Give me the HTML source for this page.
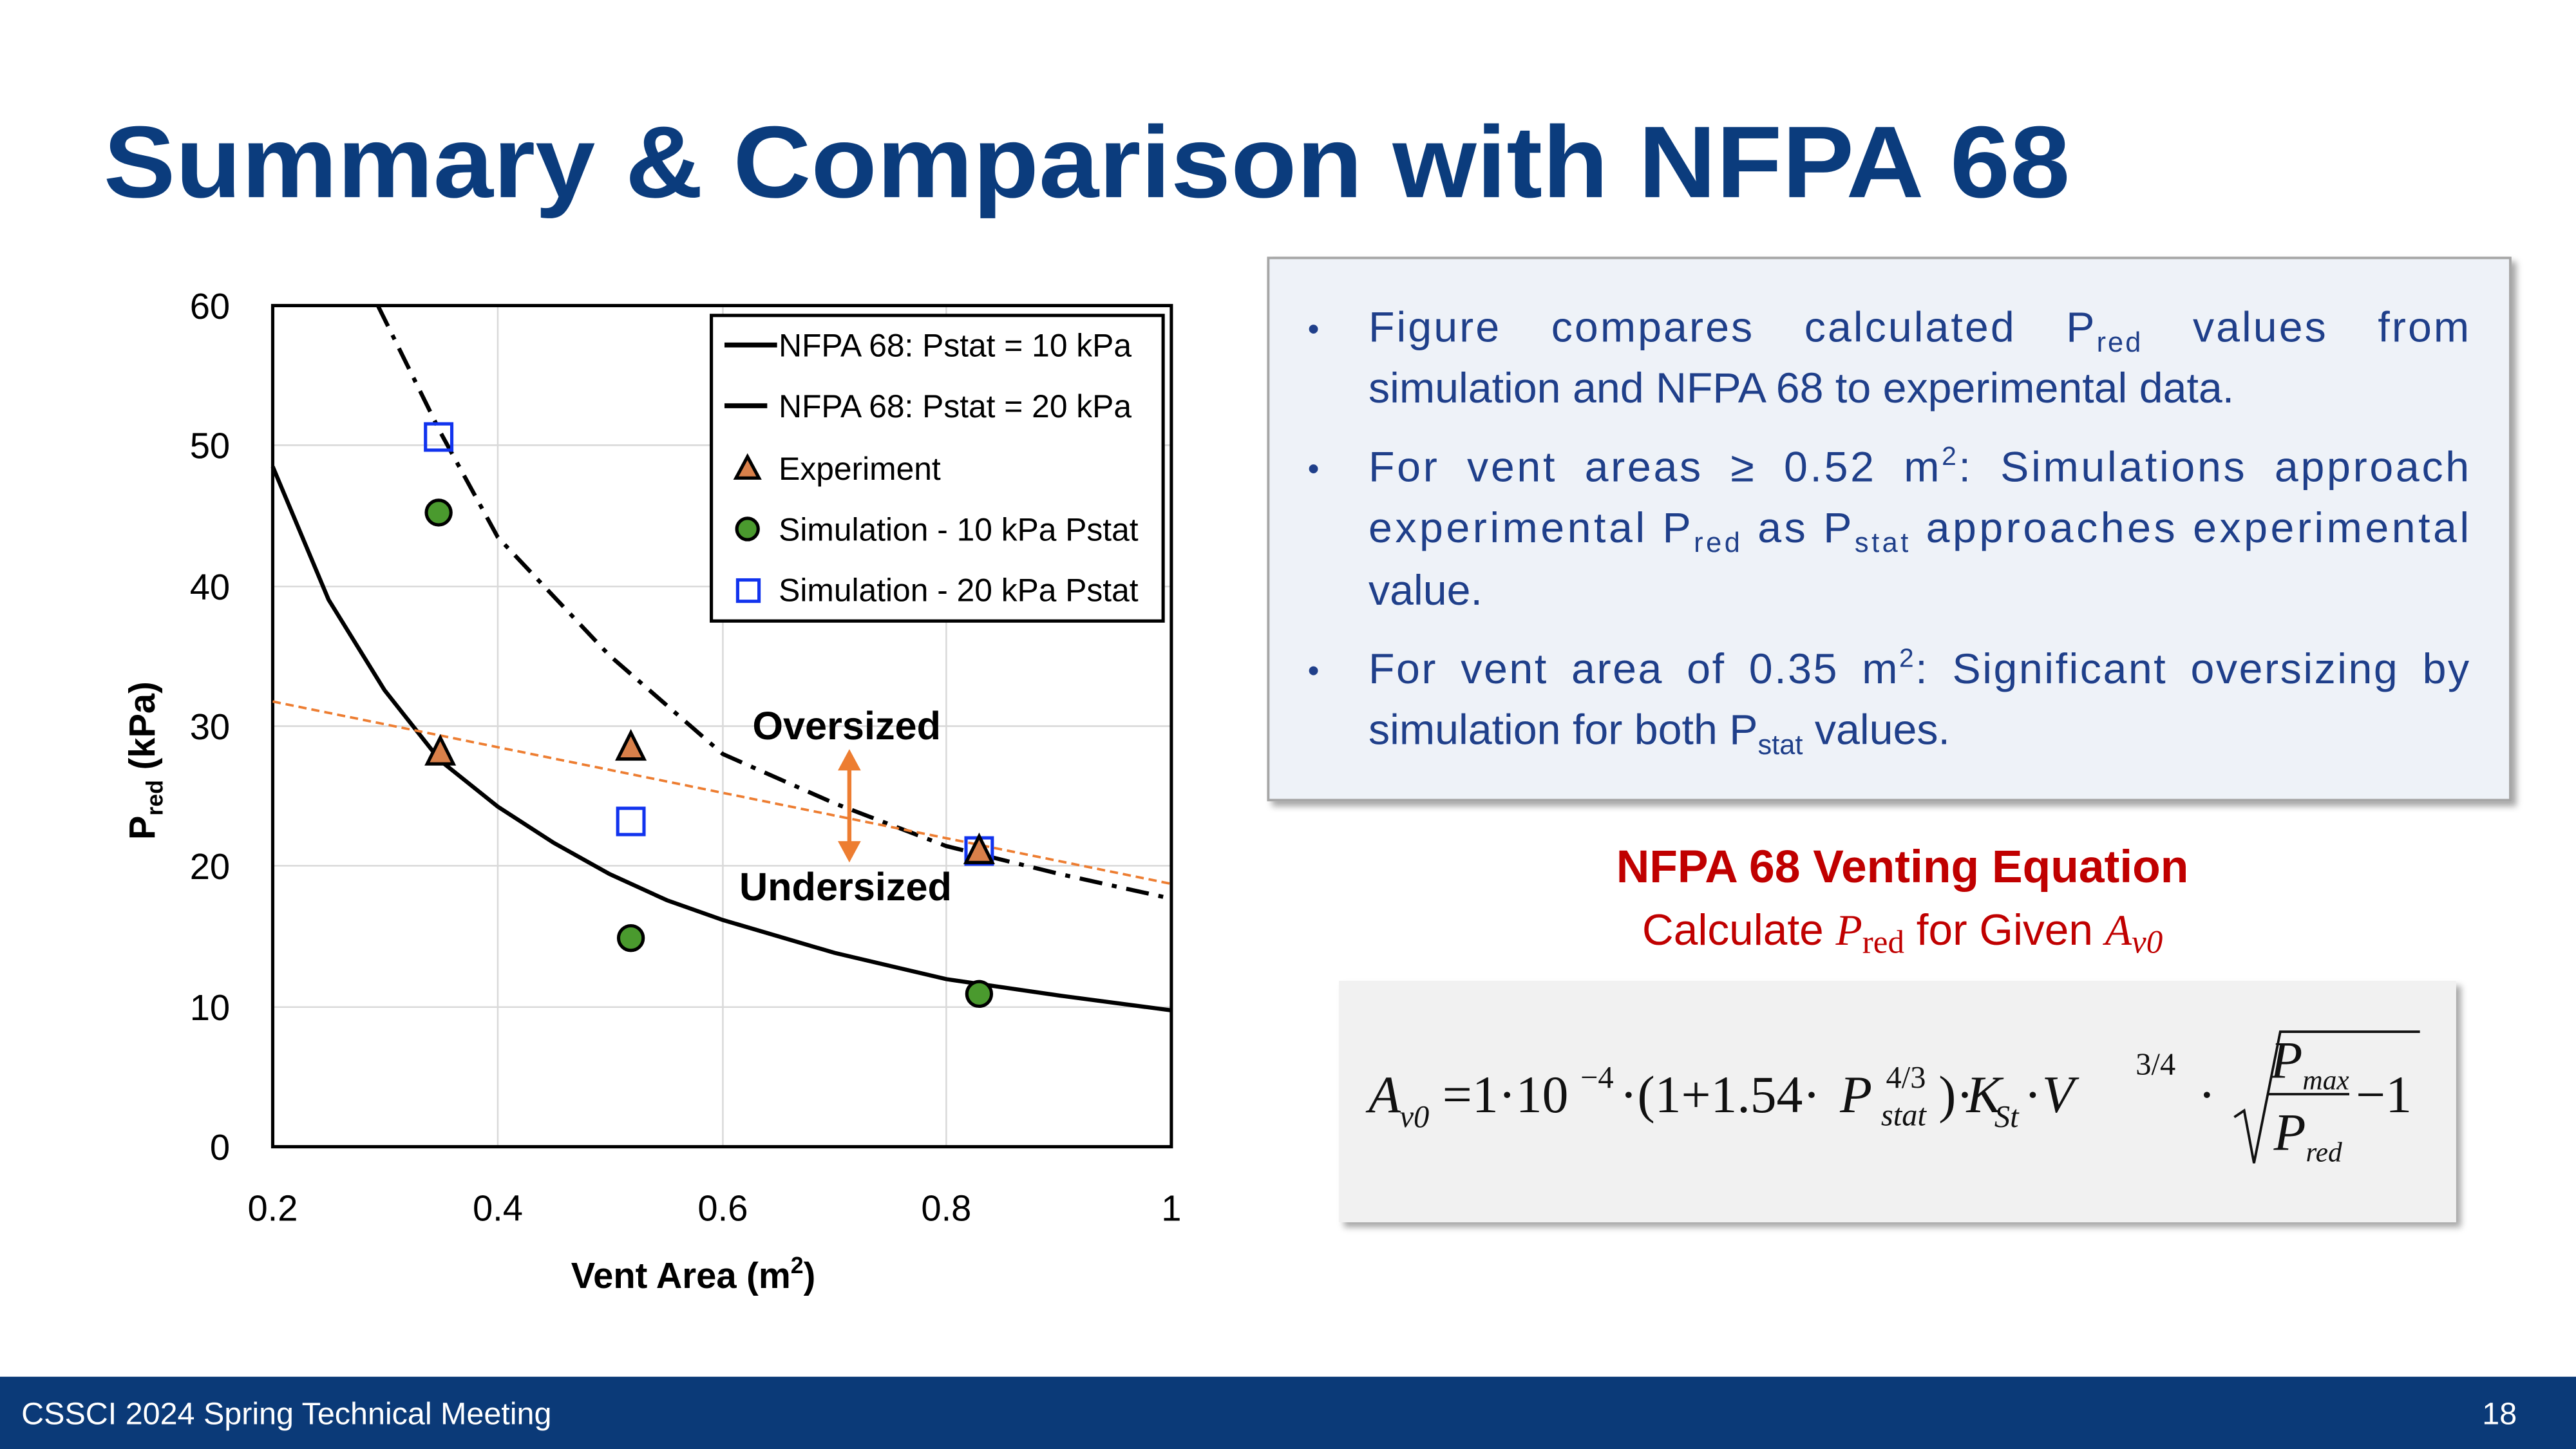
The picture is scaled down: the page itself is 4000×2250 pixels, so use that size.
<!DOCTYPE html>
<html><head><meta charset="utf-8"><style>
html,body{margin:0;padding:0;background:#fff}
svg{display:block}
text{font-family:"Liberation Sans",sans-serif}
.s{font-family:"Liberation Serif",serif}
</style></head><body>
<svg width="4000" height="2250" viewBox="0 0 1568 882" xmlns="http://www.w3.org/2000/svg">
<defs>
<filter id="sh" x="-5%" y="-5%" width="112%" height="115%"><feDropShadow dx="3" dy="3" stdDeviation="2" flood-color="#000" flood-opacity="0.35"/></filter>
</defs>
<rect width="1568" height="882" fill="#fff"/>
<text x="63" y="120" font-size="62" font-weight="bold" fill="#0b3c7d" textLength="1197" lengthAdjust="spacingAndGlyphs">Summary &amp; Comparison with NFPA 68</text>

<g stroke="#d9d9d9" stroke-width="1">
<line x1="303" y1="186" x2="303" y2="698"/><line x1="440" y1="186" x2="440" y2="698"/><line x1="576" y1="186" x2="576" y2="698"/>
<line x1="166" y1="271" x2="713" y2="271"/><line x1="166" y1="357" x2="713" y2="357"/><line x1="166" y1="442" x2="713" y2="442"/><line x1="166" y1="527" x2="713" y2="527"/><line x1="166" y1="613" x2="713" y2="613"/>
</g>
<rect x="166" y="186" width="547" height="512" fill="none" stroke="#000" stroke-width="2"/>
<g font-size="22" fill="#000" text-anchor="end">
<text x="140" y="194">60</text><text x="140" y="279">50</text><text x="140" y="365">40</text><text x="140" y="450">30</text><text x="140" y="535">20</text><text x="140" y="621">10</text><text x="140" y="706">0</text>
</g>
<g font-size="22" fill="#000" text-anchor="middle">
<text x="166" y="743">0.2</text><text x="303" y="743">0.4</text><text x="440" y="743">0.6</text><text x="576" y="743">0.8</text><text x="713" y="743">1</text>
</g>
<text x="422" y="784" font-size="22" font-weight="bold" text-anchor="middle">Vent Area (m<tspan font-size="14" dy="-9">2</tspan><tspan dy="9">)</tspan></text>
<text transform="translate(94,463) rotate(-90)" font-size="22" font-weight="bold" text-anchor="middle">P<tspan font-size="14" dy="5">red</tspan><tspan dy="-5"> (kPa)</tspan></text>

<polyline fill="none" stroke="#000" stroke-width="2.5" points="166,284 200,365 234,420 268,463 303,491 337,513 371,532 406,548 440,560 508,580 576,596 645,606 713,615"/>
<polyline fill="none" stroke="#000" stroke-width="2.5" stroke-dasharray="14,6,3,6" points="230,186 268,263 303,327 371,399 440,459 508,489 576,515 645,532 713,547"/>
<line x1="166" y1="427" x2="713" y2="538" stroke="#ed7d31" stroke-width="1.5" stroke-dasharray="5,3"/>
<line x1="517" y1="466" x2="517" y2="515" stroke="#ed7d31" stroke-width="2.5"/>
<polygon points="517,456 510,469 524,469" fill="#ed7d31"/>
<polygon points="517,525 510,512 524,512" fill="#ed7d31"/>
<text x="458" y="450" font-size="24" font-weight="bold">Oversized</text>
<text x="450" y="548" font-size="24" font-weight="bold">Undersized</text>
<g fill="#4a9a2e" stroke="#000" stroke-width="2">
<circle cx="267" cy="312" r="7.5"/><circle cx="384" cy="571" r="7.5"/><circle cx="596" cy="605" r="7.5"/>
</g>
<g fill="none" stroke="#1133ee" stroke-width="2">
<rect x="259" y="258" width="16" height="16"/><rect x="376" y="492" width="16" height="16"/><rect x="588" y="510" width="16" height="16"/>
</g>
<g fill="#d9804a" stroke="#000" stroke-width="2">
<polygon points="268,449 260,465 276,465"/><polygon points="384,446 376,462 392,462"/><polygon points="596,509 588,525 604,525"/>
</g>
<rect x="433" y="192" width="275" height="186" fill="#fff" stroke="#000" stroke-width="2"/>
<g font-size="19.5" fill="#000">
<line x1="441" y1="210" x2="473" y2="210" stroke="#000" stroke-width="3"/><text x="474" y="217">NFPA 68: Pstat = 10 kPa</text>
<line x1="441" y1="247" x2="467" y2="247" stroke="#000" stroke-width="3"/><text x="474" y="254">NFPA 68: Pstat = 20 kPa</text>
<polygon points="455,278 448,291 462,291" fill="#d9804a" stroke="#000" stroke-width="2"/><text x="474" y="292">Experiment</text>
<circle cx="455" cy="322" r="6.5" fill="#4a9a2e" stroke="#000" stroke-width="2"/><text x="474" y="329">Simulation - 10 kPa Pstat</text>
<rect x="449" y="353" width="13" height="13" fill="none" stroke="#1133ee" stroke-width="2"/><text x="474" y="366">Simulation - 20 kPa Pstat</text>
</g>

<rect x="772" y="157" width="756" height="330" fill="#eef2f8" stroke="#a6a6a6" stroke-width="1.5" filter="url(#sh)"/>
<g font-size="26" fill="#1f3f8a">
<text x="796" y="207" font-size="20">•</text>
<text x="833" y="208" textLength="670" lengthAdjust="spacing" word-spacing="22">Figure compares calculated P<tspan font-size="17" dy="6">red</tspan><tspan dy="-6"> values from</tspan></text>
<text x="833" y="245">simulation and NFPA 68 to experimental data.</text>
<text x="796" y="292" font-size="20">•</text>
<text x="833" y="293" textLength="670" lengthAdjust="spacing" word-spacing="8">For vent areas ≥ 0.52 m<tspan font-size="16" dy="-10">2</tspan><tspan dy="10">: Simulations approach</tspan></text>
<text x="833" y="330" textLength="670" lengthAdjust="spacing">experimental P<tspan font-size="17" dy="6">red</tspan><tspan dy="-6"> as P</tspan><tspan font-size="17" dy="6">stat</tspan><tspan dy="-6"> approaches experimental</tspan></text>
<text x="833" y="368">value.</text>
<text x="796" y="415" font-size="20">•</text>
<text x="833" y="416" textLength="670" lengthAdjust="spacing" word-spacing="6">For vent area of 0.35 m<tspan font-size="16" dy="-10">2</tspan><tspan dy="10">: Significant oversizing by</tspan></text>
<text x="833" y="453">simulation for both P<tspan font-size="17" dy="6">stat</tspan><tspan dy="-6"> values.</tspan></text>
</g>

<text x="1158" y="537" font-size="28" font-weight="bold" fill="#c00000" text-anchor="middle">NFPA 68 Venting Equation</text>
<text x="1158" y="575" font-size="26.5" fill="#c00000" text-anchor="middle">Calculate <tspan class="s" font-style="italic">P</tspan><tspan class="s" font-size="20" dy="5">red</tspan><tspan dy="-5"> for Given </tspan><tspan class="s" font-style="italic">A</tspan><tspan class="s" font-style="italic" font-size="20" dy="5">v0</tspan></text>

<rect x="815" y="597" width="680" height="147" fill="#f1f1f1" filter="url(#sh)"/>
<g class="s" fill="#111" font-size="32">
<text class="s" x="833" y="677" font-style="italic">A</text>
<text class="s" x="852" y="686" font-style="italic" font-size="19">v0</text>
<text class="s" x="878" y="677">=1·10</text>
<text class="s" x="962" y="662" font-size="19">−4</text>
<text class="s" x="986" y="677">·(1+1.54·</text>
<text class="s" x="1120" y="677" font-style="italic">P</text>
<text class="s" x="1148" y="662" font-size="19">4/3</text>
<text class="s" x="1145" y="685" font-style="italic" font-size="19">stat</text>
<text class="s" x="1180" y="677">)·</text>
<text class="s" x="1197" y="677" font-style="italic">K</text>
<text class="s" x="1214" y="686" font-style="italic" font-size="19">St</text>
<text class="s" x="1232" y="677">·</text>
<text class="s" x="1243" y="677" font-style="italic">V</text>
<text class="s" x="1300" y="654" font-size="19">3/4</text>
<text class="s" x="1338" y="677">·</text>
<polyline points="1360,680 1366,676 1372,708 1388,628 1473,628" fill="none" stroke="#111" stroke-width="1.5"/>
<line x1="1380" y1="666" x2="1430" y2="666" stroke="#111" stroke-width="1.5"/>
<text class="s" x="1382" y="656" font-style="italic">P<tspan font-size="17" dy="7">max</tspan></text>
<text class="s" x="1384" y="700" font-style="italic">P<tspan font-size="17" dy="7">red</tspan></text>
<text class="s" x="1434" y="677">−1</text>
</g>

<rect x="0" y="838" width="1568" height="44" fill="#0b3a78"/>
<text x="13" y="867" font-size="19" fill="#fff">CSSCI 2024 Spring Technical Meeting</text>
<text x="1532" y="867" font-size="19" fill="#fff" text-anchor="end">18</text>
</svg>
</body></html>
